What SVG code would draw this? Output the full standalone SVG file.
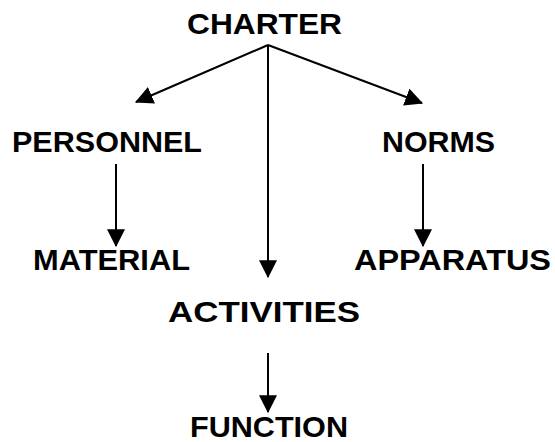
<svg xmlns="http://www.w3.org/2000/svg" width="555" height="442" viewBox="0 0 555 442">
<style>
text{font-family:"Liberation Sans",Arial,sans-serif;font-weight:bold;font-size:30px;fill:#000}
.c{stroke:#000;stroke-width:2;fill:none}
</style>
<defs>
<marker id="ah" markerUnits="userSpaceOnUse" markerWidth="18" markerHeight="18" viewBox="0 0 16 16" refX="15" refY="8" orient="auto">
<path d="M0,0 L16,8 L0,16 Z" fill="#000"/>
</marker>
</defs>
<rect width="555" height="442" fill="#fff"/>
<g id="connectors">
<path class="c" d="M268,45 L136,102" marker-end="url(#ah)"/>
<path class="c" d="M268,45 L422,103" marker-end="url(#ah)"/>
<path class="c" d="M268,45 L268,277" marker-end="url(#ah)"/>
<path class="c" d="M116,164 L116,246" marker-end="url(#ah)"/>
<path class="c" d="M423,164 L423,246" marker-end="url(#ah)"/>
<path class="c" d="M268,353 L268,412" marker-end="url(#ah)"/>
</g>
<g id="charter"><text x="187" y="34" textLength="155" lengthAdjust="spacingAndGlyphs">CHARTER</text></g>
<g id="personnel"><text x="12" y="152" textLength="190" lengthAdjust="spacingAndGlyphs">PERSONNEL</text></g>
<g id="norms"><text x="382" y="152" textLength="113" lengthAdjust="spacingAndGlyphs">NORMS</text></g>
<g id="material"><text x="33" y="270" textLength="157" lengthAdjust="spacingAndGlyphs">MATERIAL</text></g>
<g id="apparatus"><text x="354" y="270" textLength="197" lengthAdjust="spacingAndGlyphs">APPARATUS</text></g>
<g id="activities"><text x="168" y="322" textLength="192" lengthAdjust="spacingAndGlyphs">ACTIVITIES</text></g>
<g id="function"><text x="190" y="437" textLength="158" lengthAdjust="spacingAndGlyphs">FUNCTION</text></g>
</svg>
